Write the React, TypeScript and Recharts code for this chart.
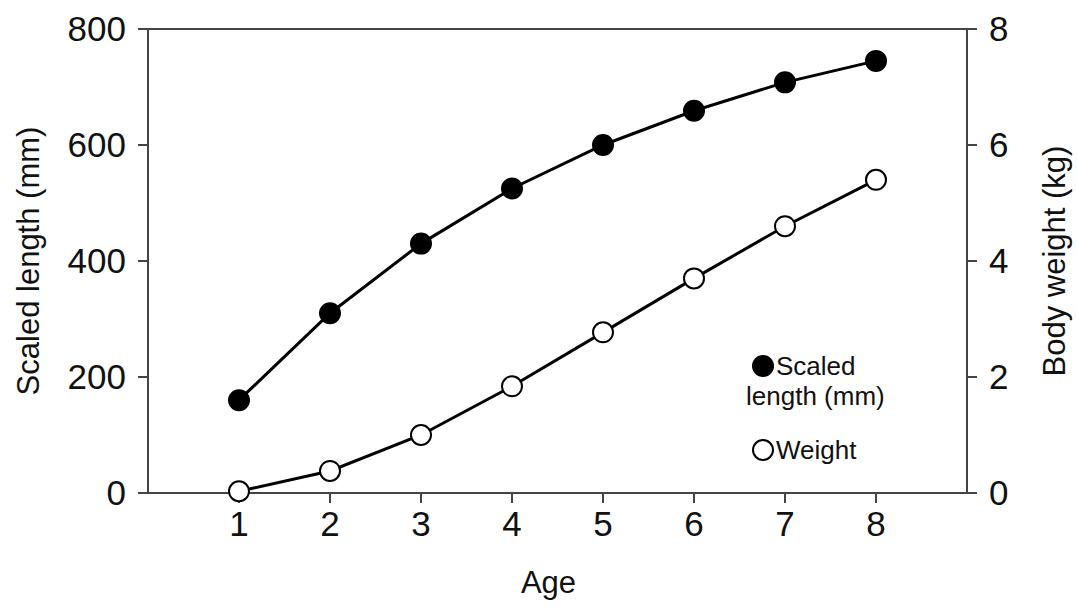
import { LineChart, Line, XAxis, YAxis, ReferenceLine, Label } from "recharts";

const ages = [1, 2, 3, 4, 5, 6, 7, 8];
const lengthMm = [160, 310, 430, 525, 600, 659, 708, 745];
const weightKg = [0.03, 0.38, 1.0, 1.84, 2.77, 3.7, 4.6, 5.4];

const ageTicks = [1, 2, 3, 4, 5, 6, 7, 8];
const lengthTicks = [0, 200, 400, 600, 800];
const weightTicks = [0, 2, 4, 6, 8];

const data = ages.map((age, i) => ({
  age,
  length: lengthMm[i],
  weight: weightKg[i],
}));

const FONT = '"Liberation Sans", Arial, sans-serif';
const AXIS = "#444";
const TICK_FONT = 35;
const TITLE_FONT = 31;

// legend sits inside the plot, lower right, as its own small svg
function LegendBox(): JSX.Element {
  return (
    <svg
      width={170}
      height={130}
      style={{ position: "absolute", left: 740, top: 350, overflow: "visible" }}
    >
      <circle cx={23} cy={16} r={11} fill="#000" />
      <text x={36} y={25} fontSize={26} fontFamily={FONT} fill="#111">
        Scaled
      </text>
      <text x={6} y={55} fontSize={26} fontFamily={FONT} fill="#111">
        length (mm)
      </text>
      <circle cx={23} cy={100} r={10} fill="#fff" stroke="#000" strokeWidth={2} />
      <text x={36} y={109} fontSize={26} fontFamily={FONT} fill="#111">
        Weight
      </text>
    </svg>
  );
}

export default function App(): JSX.Element {
  return (
    <div
      style={{
        position: "absolute",
        left: 0,
        top: 0,
        width: 1078,
        height: 607,
        background: "#fff",
      }}
    >
      <LineChart
        width={1078}
        height={607}
        data={data}
        margin={{ top: 29, right: 0, bottom: 0, left: 0 }}
      >
        <XAxis
          dataKey="age"
          type="number"
          domain={[0, 9]}
          ticks={ageTicks}
          height={114}
          stroke={AXIS}
          strokeWidth={2}
          tickSize={10}
          tickMargin={8}
          tick={{ fill: "#111", fontSize: TICK_FONT, fontFamily: FONT }}
        >
          <Label
            value="Age"
            position="insideBottom"
            offset={14}
            dx={-9}
            style={{ fill: "#111", fontSize: TITLE_FONT, fontFamily: FONT }}
          />
        </XAxis>
        <YAxis
          yAxisId="left"
          domain={[0, 800]}
          ticks={lengthTicks}
          width={148}
          stroke={AXIS}
          strokeWidth={2}
          tickSize={10}
          tickMargin={12}
          tick={{ fill: "#111", fontSize: TICK_FONT, fontFamily: FONT }}
        >
          <Label
            value="Scaled length (mm)"
            angle={-90}
            position="insideLeft"
            offset={28}
            style={{ fill: "#111", fontSize: TITLE_FONT, fontFamily: FONT, textAnchor: "middle" }}
          />
        </YAxis>
        <YAxis
          yAxisId="right"
          orientation="right"
          domain={[0, 8]}
          ticks={weightTicks}
          width={111}
          stroke={AXIS}
          strokeWidth={2}
          tickSize={10}
          tickMargin={12}
          tick={{ fill: "#111", fontSize: TICK_FONT, fontFamily: FONT }}
        >
          <Label
            value="Body weight (kg)"
            angle={-90}
            position="insideRight"
            offset={24}
            style={{ fill: "#111", fontSize: TITLE_FONT, fontFamily: FONT, textAnchor: "middle" }}
          />
        </YAxis>
        <ReferenceLine yAxisId="left" y={800} stroke={AXIS} strokeWidth={2} />
        <Line
          yAxisId="left"
          type="linear"
          dataKey="length"
          stroke="#000"
          strokeWidth={3}
          dot={{ r: 10, fill: "#000", stroke: "#000", strokeWidth: 2 }}
          isAnimationActive={false}
        />
        <Line
          yAxisId="right"
          type="linear"
          dataKey="weight"
          stroke="#000"
          strokeWidth={3}
          dot={{ r: 10, fill: "#fff", stroke: "#000", strokeWidth: 2 }}
          isAnimationActive={false}
        />
      </LineChart>
      <LegendBox />
    </div>
  );
}
